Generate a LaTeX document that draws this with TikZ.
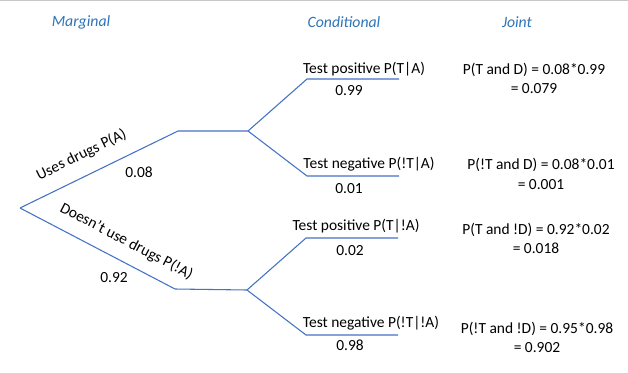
\documentclass[tikz,border=0pt]{standalone}
\usepackage{fontspec}
\setmainfont{Carlito}
\begin{document}
\begin{tikzpicture}[x=0.75pt,y=-0.75pt,
  branch/.style={draw=treeblue,line width=0.8pt},
  head/.style={font=\fontsize{11.8}{13}\selectfont\itshape,text=headblue,inner sep=0pt},
  lbl/.style={font=\fontsize{11.6}{13}\selectfont,inner sep=0pt},
  joint/.style={font=\fontsize{11.6}{14.5}\selectfont,inner sep=0pt,align=center}]
\definecolor{treeblue}{HTML}{4472C4}
\definecolor{headblue}{HTML}{2E75B6}
\useasboundingbox (0,0) rectangle (628,372);
\fill[white] (0,0) rectangle (628,372);
\draw[color=black!22,line width=1pt] (0,0.5) -- (628,0.5);
% headings
\node[head] (hm) at (81,22) {Marginal};
\node[head] (hc) at (344,22) {Conditional};
\node[head] (hj) at (517,22) {Joint};
% tree coordinates
\coordinate (r) at (20,208);
\coordinate (a1) at (178,131); \coordinate (a2) at (248,131);
\coordinate (b1) at (175,289); \coordinate (b2) at (247,290);
\coordinate (c1) at (307,79); \coordinate (c2) at (399,79);
\coordinate (d1) at (307,176); \coordinate (d2) at (399,176);
\coordinate (e1) at (306,238); \coordinate (e2) at (398,238);
\coordinate (f1) at (306,335); \coordinate (f2) at (398,335);
\draw[branch] (r) -- (a1) -- (a2);
\draw[branch] (r) -- (b1) -- (b2);
\draw[branch] (a2) -- (c1) -- (c2);
\draw[branch] (a2) -- (d1) -- (d2);
\draw[branch] (b2) -- (e1) -- (e2);
\draw[branch] (b2) -- (f1) -- (f2);
% marginal labels
\node[lbl,rotate=26] (la) at (81.5,155) {Uses drugs P(A)};
\node[lbl] (pa) at (139,172) {0.08};
\node[lbl,rotate=-27.6] (lna) at (126.5,241.5) {Doesn’t use drugs P(!A)};
\node[lbl] (pna) at (114,278) {0.92};
% conditional labels
\node[lbl] (tpa) at (364,69) {Test positive P(T|A)};
\node[lbl] (v1) at (349,91) {0.99};
\node[lbl] (tna) at (369,164) {Test negative P(!T|A)};
\node[lbl] (v2) at (349,189) {0.01};
\node[lbl] (tpn) at (356,226) {Test positive P(T|!A)};
\node[lbl] (v3) at (350,251) {0.02};
\node[lbl] (tnn) at (371,323) {Test negative P(!T|!A)};
\node[lbl] (v4) at (350,345) {0.98};
% joint
\node[joint] (j1) at (534,78.5) {P(T and D) = 0.08*0.99\\= 0.079};
\node[joint] (j2) at (541,174) {P(!T and D) = 0.08*0.01\\= 0.001};
\node[joint] (j3) at (536,238.5) {P(T and !D) = 0.92*0.02\\= 0.018};
\node[joint] (j4) at (537,337.5) {P(!T and !D) = 0.95*0.98\\= 0.902};
\end{tikzpicture}
\end{document}
